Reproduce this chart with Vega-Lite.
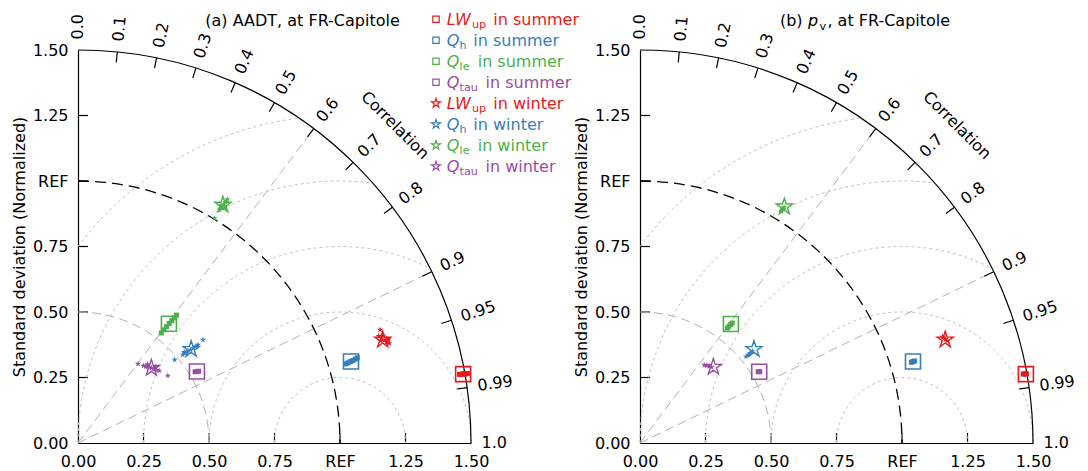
{
"$schema":"https://vega.github.io/schema/vega-lite/v6.json",
"padding":{"left":11,"top":11,"right":5,"bottom":0},
"bounds":"flush",
"spacing":169,
"config":{"view":{"stroke":null},"font":"DejaVu Sans"},
"datasets":{
"corr":[{"x":0,"y":0,"x2":0.9,"y2":1.2},{"x":0,"y":0,"x2":1.35,"y2":0.6538}],
"xt":[{"x":0.25,"y":0,"y2":0.0382},{"x":0.5,"y":0,"y2":0.0382},{"x":0.75,"y":0,"y2":0.0382},{"x":1,"y":0,"y2":0.0382},{"x":1.25,"y":0,"y2":0.0382}],
"yt":[{"y":0.25,"x":0,"x2":0.0382},{"y":0.5,"x":0,"x2":0.0382},{"y":0.75,"x":0,"x2":0.0382},{"y":1,"x":0,"x2":0.0382},{"y":1.25,"x":0,"x2":0.0382}],
"rms":[{"arc":"semi","r":0.25},{"arc":"semi","r":0.5},{"arc":"r075","r":0.75},{"arc":"r100","r":1.0},{"arc":"r125","r":1.25}],
"ctick":[{"x":0.15,"y":1.4925,"x2":0.146,"y2":1.4527},{"x":0.3,"y":1.4697,"x2":0.292,"y2":1.4305},{"x":0.45,"y":1.4309,"x2":0.438,"y2":1.3928},{"x":0.6,"y":1.3748,"x2":0.584,"y2":1.3381},{"x":0.75,"y":1.299,"x2":0.73,"y2":1.2644},{"x":0.9,"y":1.2,"x2":0.876,"y2":1.168},{"x":1.05,"y":1.0712,"x2":1.022,"y2":1.0426},{"x":1.2,"y":0.9,"x2":1.168,"y2":0.876},{"x":1.35,"y":0.6538,"x2":1.314,"y2":0.6364},{"x":1.425,"y":0.4684,"x2":1.387,"y2":0.4559},{"x":1.485,"y":0.2116,"x2":1.4454,"y2":0.206}],
"clab":[{"lab":"0.0","x":0,"y":1.54,"ang":-90},{"lab":"0.1","x":0.154,"y":1.5323,"ang":-84.26},{"lab":"0.2","x":0.308,"y":1.5089,"ang":-78.46},{"lab":"0.3","x":0.462,"y":1.4691,"ang":-72.54},{"lab":"0.4","x":0.616,"y":1.4114,"ang":-66.42},{"lab":"0.5","x":0.77,"y":1.3337,"ang":-60},{"lab":"0.6","x":0.924,"y":1.232,"ang":-53.13},{"lab":"0.7","x":1.078,"y":1.0998,"ang":-45.57},{"lab":"0.8","x":1.232,"y":0.924,"ang":-36.87},{"lab":"0.9","x":1.386,"y":0.6713,"ang":-25.84},{"lab":"0.95","x":1.463,"y":0.4809,"ang":-18.19},{"lab":"0.99","x":1.5246,"y":0.2173,"ang":-8.11},{"lab":"1.0","x":1.54,"y":0,"ang":0}],
"leg":[{"var":"LWup","season":"summer","main":"LW","sub":"up","rest":"in summer","order":0},{"var":"Qh","season":"summer","main":"Q","sub":"h","rest":"in summer","order":1},{"var":"Qle","season":"summer","main":"Q","sub":"le","rest":"in summer","order":2},{"var":"Qtau","season":"summer","main":"Q","sub":"tau","rest":"in summer","order":3},{"var":"LWup","season":"winter","main":"LW","sub":"up","rest":"in winter","order":4},{"var":"Qh","season":"winter","main":"Q","sub":"h","rest":"in winter","order":5},{"var":"Qle","season":"winter","main":"Q","sub":"le","rest":"in winter","order":6},{"var":"Qtau","season":"winter","main":"Q","sub":"tau","rest":"in winter","order":7}],
"pa":[
{"var":"LWup","season":"summer","kind":"big","x":1.47,"y":0.263},{"var":"Qh","season":"summer","kind":"big","x":1.042,"y":0.311},{"var":"Qle","season":"summer","kind":"big","x":0.347,"y":0.455},{"var":"Qtau","season":"summer","kind":"big","x":0.454,"y":0.273},
{"var":"LWup","season":"summer","kind":"small","x":1.456,"y":0.262},{"var":"LWup","season":"summer","kind":"small","x":1.462,"y":0.262},{"var":"LWup","season":"summer","kind":"small","x":1.468,"y":0.263},{"var":"LWup","season":"summer","kind":"small","x":1.474,"y":0.264},{"var":"LWup","season":"summer","kind":"small","x":1.48,"y":0.264},{"var":"LWup","season":"summer","kind":"small","x":1.486,"y":0.265},
{"var":"Qh","season":"summer","kind":"small","x":1.022,"y":0.302},{"var":"Qh","season":"summer","kind":"small","x":1.031,"y":0.306},{"var":"Qh","season":"summer","kind":"small","x":1.04,"y":0.311},{"var":"Qh","season":"summer","kind":"small","x":1.049,"y":0.315},{"var":"Qh","season":"summer","kind":"small","x":1.058,"y":0.32},{"var":"Qh","season":"summer","kind":"small","x":1.066,"y":0.325},
{"var":"Qle","season":"summer","kind":"small","x":0.318,"y":0.42},{"var":"Qle","season":"summer","kind":"small","x":0.328,"y":0.432},{"var":"Qle","season":"summer","kind":"small","x":0.338,"y":0.444},{"var":"Qle","season":"summer","kind":"small","x":0.348,"y":0.456},{"var":"Qle","season":"summer","kind":"small","x":0.358,"y":0.467},{"var":"Qle","season":"summer","kind":"small","x":0.368,"y":0.478},{"var":"Qle","season":"summer","kind":"small","x":0.376,"y":0.488},
{"var":"Qtau","season":"summer","kind":"small","x":0.447,"y":0.272},{"var":"Qtau","season":"summer","kind":"small","x":0.454,"y":0.273},{"var":"Qtau","season":"summer","kind":"small","x":0.46,"y":0.274},
{"var":"LWup","season":"winter","kind":"big","x":1.163,"y":0.394},{"var":"Qh","season":"winter","kind":"big","x":0.432,"y":0.358},{"var":"Qle","season":"winter","kind":"big","x":0.553,"y":0.909},{"var":"Qtau","season":"winter","kind":"big","x":0.28,"y":0.286},
{"var":"LWup","season":"winter","kind":"small","x":1.153,"y":0.432},{"var":"LWup","season":"winter","kind":"small","x":1.148,"y":0.408},{"var":"LWup","season":"winter","kind":"small","x":1.158,"y":0.4},{"var":"LWup","season":"winter","kind":"small","x":1.168,"y":0.392},{"var":"LWup","season":"winter","kind":"small","x":1.178,"y":0.386},{"var":"LWup","season":"winter","kind":"small","x":1.188,"y":0.381},{"var":"LWup","season":"winter","kind":"small","x":1.165,"y":0.41},{"var":"LWup","season":"winter","kind":"small","x":1.178,"y":0.4},{"var":"LWup","season":"winter","kind":"small","x":1.155,"y":0.39},{"var":"LWup","season":"winter","kind":"small","x":1.185,"y":0.395},
{"var":"Qh","season":"winter","kind":"small","x":0.477,"y":0.394},{"var":"Qh","season":"winter","kind":"small","x":0.369,"y":0.318},{"var":"Qh","season":"winter","kind":"small","x":0.4,"y":0.337},{"var":"Qh","season":"winter","kind":"small","x":0.41,"y":0.343},{"var":"Qh","season":"winter","kind":"small","x":0.42,"y":0.35},{"var":"Qh","season":"winter","kind":"small","x":0.43,"y":0.356},{"var":"Qh","season":"winter","kind":"small","x":0.44,"y":0.362},{"var":"Qh","season":"winter","kind":"small","x":0.45,"y":0.369},{"var":"Qh","season":"winter","kind":"small","x":0.458,"y":0.375},{"var":"Qh","season":"winter","kind":"small","x":0.405,"y":0.347},
{"var":"Qle","season":"winter","kind":"small","x":0.521,"y":0.858},{"var":"Qle","season":"winter","kind":"small","x":0.541,"y":0.89},{"var":"Qle","season":"winter","kind":"small","x":0.548,"y":0.9},{"var":"Qle","season":"winter","kind":"small","x":0.556,"y":0.91},{"var":"Qle","season":"winter","kind":"small","x":0.563,"y":0.92},{"var":"Qle","season":"winter","kind":"small","x":0.57,"y":0.93},{"var":"Qle","season":"winter","kind":"small","x":0.545,"y":0.906},{"var":"Qle","season":"winter","kind":"small","x":0.56,"y":0.899},
{"var":"Qtau","season":"winter","kind":"small","x":0.229,"y":0.302},{"var":"Qtau","season":"winter","kind":"small","x":0.343,"y":0.257},{"var":"Qtau","season":"winter","kind":"small","x":0.25,"y":0.295},{"var":"Qtau","season":"winter","kind":"small","x":0.26,"y":0.292},{"var":"Qtau","season":"winter","kind":"small","x":0.27,"y":0.29},{"var":"Qtau","season":"winter","kind":"small","x":0.28,"y":0.286},{"var":"Qtau","season":"winter","kind":"small","x":0.29,"y":0.282},{"var":"Qtau","season":"winter","kind":"small","x":0.3,"y":0.279},{"var":"Qtau","season":"winter","kind":"small","x":0.31,"y":0.276},{"var":"Qtau","season":"winter","kind":"small","x":0.265,"y":0.3},{"var":"Qtau","season":"winter","kind":"small","x":0.295,"y":0.29}
],
"pb":[
{"var":"LWup","season":"summer","kind":"big","x":1.473,"y":0.263},{"var":"Qh","season":"summer","kind":"big","x":1.042,"y":0.311},{"var":"Qle","season":"summer","kind":"big","x":0.347,"y":0.454},{"var":"Qtau","season":"summer","kind":"big","x":0.455,"y":0.272},
{"var":"LWup","season":"summer","kind":"small","x":1.463,"y":0.263},{"var":"LWup","season":"summer","kind":"small","x":1.469,"y":0.264},{"var":"LWup","season":"summer","kind":"small","x":1.475,"y":0.264},
{"var":"Qh","season":"summer","kind":"small","x":1.036,"y":0.308},{"var":"Qh","season":"summer","kind":"small","x":1.042,"y":0.311},{"var":"Qh","season":"summer","kind":"small","x":1.048,"y":0.313},
{"var":"Qle","season":"summer","kind":"small","x":0.334,"y":0.439},{"var":"Qle","season":"summer","kind":"small","x":0.34,"y":0.446},{"var":"Qle","season":"summer","kind":"small","x":0.346,"y":0.452},{"var":"Qle","season":"summer","kind":"small","x":0.352,"y":0.458},
{"var":"Qtau","season":"summer","kind":"small","x":0.451,"y":0.272},{"var":"Qtau","season":"summer","kind":"small","x":0.457,"y":0.272},
{"var":"LWup","season":"winter","kind":"big","x":1.165,"y":0.394},{"var":"Qh","season":"winter","kind":"big","x":0.435,"y":0.358},{"var":"Qle","season":"winter","kind":"big","x":0.551,"y":0.902},{"var":"Qtau","season":"winter","kind":"big","x":0.28,"y":0.29},
{"var":"LWup","season":"winter","kind":"small","x":1.155,"y":0.405},{"var":"LWup","season":"winter","kind":"small","x":1.16,"y":0.4},{"var":"LWup","season":"winter","kind":"small","x":1.166,"y":0.396},{"var":"LWup","season":"winter","kind":"small","x":1.172,"y":0.39},
{"var":"Qh","season":"winter","kind":"small","x":0.405,"y":0.33},{"var":"Qh","season":"winter","kind":"small","x":0.413,"y":0.337},{"var":"Qh","season":"winter","kind":"small","x":0.421,"y":0.343},{"var":"Qh","season":"winter","kind":"small","x":0.429,"y":0.35},
{"var":"Qle","season":"winter","kind":"small","x":0.54,"y":0.885},{"var":"Qle","season":"winter","kind":"small","x":0.545,"y":0.893},{"var":"Qle","season":"winter","kind":"small","x":0.55,"y":0.9},
{"var":"Qtau","season":"winter","kind":"small","x":0.245,"y":0.297},{"var":"Qtau","season":"winter","kind":"small","x":0.255,"y":0.295},{"var":"Qtau","season":"winter","kind":"small","x":0.265,"y":0.293},{"var":"Qtau","season":"winter","kind":"small","x":0.273,"y":0.29}
]
},
"hconcat":[
{
"width":393,"height":393,
"resolve":{"scale":{"y":"independent"}},
"layer":[
{"layer":[
{"data":{"name":"corr"},"mark":{"type":"rule","stroke":"#b3b3b3","strokeWidth":1,"strokeDash":[9,5]},
 "encoding":{
  "x":{"field":"x","type":"quantitative","scale":{"domain":[0,1.5],"nice":false},"axis":{"values":[0,0.25,0.5,0.75,1,1.25,1.5],"labelExpr":"datum.value == 1 ? 'REF' : format(datum.value, '.2f')","title":null,"ticks":false,"labelPadding":10,"labelFlush":false,"labelFontSize":16,"labelFont":"DejaVu Sans","labelColor":"#000","domainColor":"#000","domainWidth":1.2,"grid":false}},
  "y":{"field":"y","type":"quantitative","scale":{"domain":[0,1.5],"nice":false},"axis":{"values":[0,0.25,0.5,0.75,1,1.25,1.5],"labelExpr":"datum.value == 1 ? 'REF' : format(datum.value, '.2f')","title":"Standard deviation (Normalized)","titleFontSize":16,"titleFont":"DejaVu Sans","titleFontWeight":"normal","titleColor":"#000","titlePadding":5,"ticks":false,"labelPadding":10,"labelFlush":false,"labelFontSize":16,"labelFont":"DejaVu Sans","labelColor":"#000","domainColor":"#000","domainWidth":1.2,"grid":false}},
  "x2":{"field":"x2"},"y2":{"field":"y2"}}},
{"data":{"name":"xt"},"mark":{"type":"rule","stroke":"#000","strokeWidth":1.2},"encoding":{"x":{"field":"x","type":"quantitative"},"y":{"field":"y","type":"quantitative"},"y2":{"field":"y2"}}},
{"data":{"name":"yt"},"mark":{"type":"rule","stroke":"#000","strokeWidth":1.2},"encoding":{"x":{"field":"x","type":"quantitative"},"x2":{"field":"x2"},"y":{"field":"y","type":"quantitative"}}},
{"data":{"name":"rms"},"mark":{"type":"point","filled":false,"stroke":"#c4c4c4","strokeWidth":1,"strokeDash":[3,3],"opacity":1},
 "encoding":{"x":{"datum":1,"type":"quantitative"},"y":{"datum":0,"type":"quantitative"},
  "shape":{"field":"arc","type":"nominal","scale":{"domain":["semi","r075","r100","r125"],"range":["M-1,0A1,1,0,0,1,1,0","M-1,0A1,1,0,0,1,0.45833,-0.88879","M-1,0A1,1,0,0,1,0.125,-0.99216","M-0.8,-0.6A1,1,0,0,1,-0.125,-0.99216"]},"legend":null},
  "size":{"field":"r","type":"quantitative","scale":{"type":"pow","exponent":2,"domain":[0,1.5],"range":[0,617796]},"legend":null}}},
{"data":{"values":[{"r":0.5}]},"mark":{"type":"point","filled":false,"shape":"M0,-1A1,1,0,0,1,1,0","stroke":"#b3b3b3","strokeWidth":1,"strokeDash":[9,5],"opacity":1},
 "encoding":{"x":{"datum":0,"type":"quantitative"},"y":{"datum":0,"type":"quantitative"},"size":{"field":"r","type":"quantitative","legend":null}}},
{"data":{"values":[{"r":1}]},"mark":{"type":"point","filled":false,"shape":"M0,-1A1,1,0,0,1,1,0","stroke":"#000","strokeWidth":1.3,"strokeDash":[11,6],"opacity":1},
 "encoding":{"x":{"datum":0,"type":"quantitative"},"y":{"datum":0,"type":"quantitative"},"size":{"field":"r","type":"quantitative","legend":null}}},
{"data":{"values":[{"r":1.5}]},"mark":{"type":"point","filled":false,"shape":"M0,-1A1,1,0,0,1,1,0","stroke":"#000","strokeWidth":1.2,"opacity":1},
 "encoding":{"x":{"datum":0,"type":"quantitative"},"y":{"datum":0,"type":"quantitative"},"size":{"field":"r","type":"quantitative","legend":null}}},
{"data":{"name":"ctick"},"mark":{"type":"rule","stroke":"#000","strokeWidth":1.2},
 "encoding":{"x":{"field":"x","type":"quantitative"},"y":{"field":"y","type":"quantitative"},"x2":{"field":"x2"},"y2":{"field":"y2"}}},
{"data":{"name":"clab"},"mark":{"type":"text","align":"left","baseline":"middle","fontSize":16,"font":"DejaVu Sans","color":"#000"},
 "encoding":{"x":{"field":"x","type":"quantitative"},"y":{"field":"y","type":"quantitative"},"text":{"field":"lab"},"angle":{"field":"ang","type":"quantitative","scale":null}}},
{"data":{"values":[{"t":"Correlation"}]},"mark":{"type":"text","align":"center","baseline":"middle","fontSize":16,"font":"DejaVu Sans","angle":45,"color":"#000"},
 "encoding":{"x":{"datum":1.21,"type":"quantitative"},"y":{"datum":1.212,"type":"quantitative"},"text":{"field":"t"}}},
{"data":{"values":[{"t":"(a) AADT, at FR-Capitole"}]},"mark":{"type":"text","align":"center","baseline":"alphabetic","fontSize":16,"font":"DejaVu Sans","color":"#000"},
 "encoding":{"x":{"datum":0.857,"type":"quantitative"},"y":{"datum":1.5916,"type":"quantitative"},"text":{"field":"t"}}},
{"data":{"name":"pa"},"transform":[{"filter":"datum.season == 'summer' && datum.kind == 'small'"}],"mark":{"type":"point","shape":"square","filled":true,"size":25,"opacity":1},
 "encoding":{"x":{"field":"x","type":"quantitative"},"y":{"field":"y","type":"quantitative"},"color":{"field":"var","type":"nominal","scale":{"domain":["LWup","Qh","Qle","Qtau"],"range":["#e41a1c","#377eb8","#4daf4a","#984ea3"]},"legend":null}}},
{"data":{"name":"pa"},"transform":[{"filter":"datum.season == 'winter' && datum.kind == 'small'"}],"mark":{"type":"point","shape":"M0,-1L0.2245,-0.309L0.9511,-0.309L0.3633,0.118L0.5878,0.809L0,0.382L-0.5878,0.809L-0.3633,0.118L-0.9511,-0.309L-0.2245,-0.309Z","filled":true,"size":44,"opacity":1},
 "encoding":{"x":{"field":"x","type":"quantitative"},"y":{"field":"y","type":"quantitative"},"color":{"field":"var","type":"nominal","legend":null}}},
{"data":{"name":"pa"},"transform":[{"filter":"datum.season == 'summer' && datum.kind == 'big'"}],"mark":{"type":"point","shape":"square","filled":false,"size":225,"strokeWidth":1.6,"opacity":1},
 "encoding":{"x":{"field":"x","type":"quantitative"},"y":{"field":"y","type":"quantitative"},"color":{"field":"var","type":"nominal","legend":null}}},
{"data":{"name":"pa"},"transform":[{"filter":"datum.season == 'winter' && datum.kind == 'big'"}],"mark":{"type":"point","shape":"M0,-1L0.2245,-0.309L0.9511,-0.309L0.3633,0.118L0.5878,0.809L0,0.382L-0.5878,0.809L-0.3633,0.118L-0.9511,-0.309L-0.2245,-0.309Z","filled":false,"size":289,"strokeWidth":1.4,"opacity":1},
 "encoding":{"x":{"field":"x","type":"quantitative"},"y":{"field":"y","type":"quantitative"},"color":{"field":"var","type":"nominal","legend":null}}}
]},
{"data":{"name":"leg"},"layer":[
{"transform":[{"filter":"datum.season == 'summer'"}],"mark":{"type":"point","shape":"square","filled":false,"size":40,"strokeWidth":1.2,"opacity":1},
 "encoding":{"x":{"datum":1.3664,"type":"quantitative"},"y":{"field":"order","type":"quantitative","scale":{"domain":[0,7],"range":[-30.7,116.3],"nice":false},"axis":null},"color":{"field":"var","type":"nominal","legend":null}}},
{"transform":[{"filter":"datum.season == 'winter'"}],"mark":{"type":"point","shape":"M0,-1L0.2245,-0.309L0.9511,-0.309L0.3633,0.118L0.5878,0.809L0,0.382L-0.5878,0.809L-0.3633,0.118L-0.9511,-0.309L-0.2245,-0.309Z","filled":false,"size":90,"strokeWidth":1.2,"opacity":1},
 "encoding":{"x":{"datum":1.3664,"type":"quantitative"},"y":{"field":"order","type":"quantitative","axis":null},"color":{"field":"var","type":"nominal","legend":null}}},
{"mark":{"type":"text","align":"left","baseline":"alphabetic","fontSize":16,"font":"DejaVu Sans","fontStyle":"italic","dx":10.7,"dy":5.2},
 "encoding":{"x":{"datum":1.3664,"type":"quantitative"},"y":{"field":"order","type":"quantitative","axis":null},"text":{"field":"main"},"color":{"field":"var","type":"nominal","legend":null}}},
{"transform":[{"filter":"datum.main == 'LW'"}],"mark":{"type":"text","align":"left","baseline":"alphabetic","fontSize":11.2,"font":"DejaVu Sans","dx":36,"dy":8.7},
 "encoding":{"x":{"datum":1.3664,"type":"quantitative"},"y":{"field":"order","type":"quantitative","axis":null},"text":{"field":"sub"},"color":{"field":"var","type":"nominal","legend":null}}},
{"transform":[{"filter":"datum.main == 'Q'"}],"mark":{"type":"text","align":"left","baseline":"alphabetic","fontSize":11.2,"font":"DejaVu Sans","dx":23.6,"dy":8.7},
 "encoding":{"x":{"datum":1.3664,"type":"quantitative"},"y":{"field":"order","type":"quantitative","axis":null},"text":{"field":"sub"},"color":{"field":"var","type":"nominal","legend":null}}},
{"transform":[{"filter":"datum.sub == 'up'"}],"mark":{"type":"text","align":"left","baseline":"alphabetic","fontSize":16,"font":"DejaVu Sans","dx":57.3,"dy":5.2},
 "encoding":{"x":{"datum":1.3664,"type":"quantitative"},"y":{"field":"order","type":"quantitative","axis":null},"text":{"field":"rest"},"color":{"field":"var","type":"nominal","legend":null}}},
{"transform":[{"filter":"datum.sub == 'h'"}],"mark":{"type":"text","align":"left","baseline":"alphabetic","fontSize":16,"font":"DejaVu Sans","dx":37.3,"dy":5.2},
 "encoding":{"x":{"datum":1.3664,"type":"quantitative"},"y":{"field":"order","type":"quantitative","axis":null},"text":{"field":"rest"},"color":{"field":"var","type":"nominal","legend":null}}},
{"transform":[{"filter":"datum.sub == 'le'"}],"mark":{"type":"text","align":"left","baseline":"alphabetic","fontSize":16,"font":"DejaVu Sans","dx":41.7,"dy":5.2},
 "encoding":{"x":{"datum":1.3664,"type":"quantitative"},"y":{"field":"order","type":"quantitative","axis":null},"text":{"field":"rest"},"color":{"field":"var","type":"nominal","legend":null}}},
{"transform":[{"filter":"datum.sub == 'tau'"}],"mark":{"type":"text","align":"left","baseline":"alphabetic","fontSize":16,"font":"DejaVu Sans","dx":49.5,"dy":5.2},
 "encoding":{"x":{"datum":1.3664,"type":"quantitative"},"y":{"field":"order","type":"quantitative","axis":null},"text":{"field":"rest"},"color":{"field":"var","type":"nominal","legend":null}}}
]}
]
},
{
"width":393,"height":393,
"layer":[
{"data":{"name":"corr"},"mark":{"type":"rule","stroke":"#b3b3b3","strokeWidth":1,"strokeDash":[9,5]},
 "encoding":{
  "x":{"field":"x","type":"quantitative","scale":{"domain":[0,1.5],"nice":false},"axis":{"values":[0,0.25,0.5,0.75,1,1.25,1.5],"labelExpr":"datum.value == 1 ? 'REF' : format(datum.value, '.2f')","title":null,"ticks":false,"labelPadding":10,"labelFlush":false,"labelFontSize":16,"labelFont":"DejaVu Sans","labelColor":"#000","domainColor":"#000","domainWidth":1.2,"grid":false}},
  "y":{"field":"y","type":"quantitative","scale":{"domain":[0,1.5],"nice":false},"axis":{"values":[0,0.25,0.5,0.75,1,1.25,1.5],"labelExpr":"datum.value == 1 ? 'REF' : format(datum.value, '.2f')","title":"Standard deviation (Normalized)","titleFontSize":16,"titleFont":"DejaVu Sans","titleFontWeight":"normal","titleColor":"#000","titlePadding":5,"ticks":false,"labelPadding":10,"labelFlush":false,"labelFontSize":16,"labelFont":"DejaVu Sans","labelColor":"#000","domainColor":"#000","domainWidth":1.2,"grid":false}},
  "x2":{"field":"x2"},"y2":{"field":"y2"}}},
{"data":{"name":"xt"},"mark":{"type":"rule","stroke":"#000","strokeWidth":1.2},"encoding":{"x":{"field":"x","type":"quantitative"},"y":{"field":"y","type":"quantitative"},"y2":{"field":"y2"}}},
{"data":{"name":"yt"},"mark":{"type":"rule","stroke":"#000","strokeWidth":1.2},"encoding":{"x":{"field":"x","type":"quantitative"},"x2":{"field":"x2"},"y":{"field":"y","type":"quantitative"}}},
{"data":{"name":"rms"},"mark":{"type":"point","filled":false,"stroke":"#c4c4c4","strokeWidth":1,"strokeDash":[3,3],"opacity":1},
 "encoding":{"x":{"datum":1,"type":"quantitative"},"y":{"datum":0,"type":"quantitative"},
  "shape":{"field":"arc","type":"nominal","legend":null},
  "size":{"field":"r","type":"quantitative","legend":null}}},
{"data":{"values":[{"r":0.5}]},"mark":{"type":"point","filled":false,"shape":"M0,-1A1,1,0,0,1,1,0","stroke":"#b3b3b3","strokeWidth":1,"strokeDash":[9,5],"opacity":1},
 "encoding":{"x":{"datum":0,"type":"quantitative"},"y":{"datum":0,"type":"quantitative"},"size":{"field":"r","type":"quantitative","legend":null}}},
{"data":{"values":[{"r":1}]},"mark":{"type":"point","filled":false,"shape":"M0,-1A1,1,0,0,1,1,0","stroke":"#000","strokeWidth":1.3,"strokeDash":[11,6],"opacity":1},
 "encoding":{"x":{"datum":0,"type":"quantitative"},"y":{"datum":0,"type":"quantitative"},"size":{"field":"r","type":"quantitative","legend":null}}},
{"data":{"values":[{"r":1.5}]},"mark":{"type":"point","filled":false,"shape":"M0,-1A1,1,0,0,1,1,0","stroke":"#000","strokeWidth":1.2,"opacity":1},
 "encoding":{"x":{"datum":0,"type":"quantitative"},"y":{"datum":0,"type":"quantitative"},"size":{"field":"r","type":"quantitative","legend":null}}},
{"data":{"name":"ctick"},"mark":{"type":"rule","stroke":"#000","strokeWidth":1.2},
 "encoding":{"x":{"field":"x","type":"quantitative"},"y":{"field":"y","type":"quantitative"},"x2":{"field":"x2"},"y2":{"field":"y2"}}},
{"data":{"name":"clab"},"mark":{"type":"text","align":"left","baseline":"middle","fontSize":16,"font":"DejaVu Sans","color":"#000"},
 "encoding":{"x":{"field":"x","type":"quantitative"},"y":{"field":"y","type":"quantitative"},"text":{"field":"lab"},"angle":{"field":"ang","type":"quantitative","scale":null}}},
{"data":{"values":[{"t":"Correlation"}]},"mark":{"type":"text","align":"center","baseline":"middle","fontSize":16,"font":"DejaVu Sans","angle":45,"color":"#000"},
 "encoding":{"x":{"datum":1.21,"type":"quantitative"},"y":{"datum":1.212,"type":"quantitative"},"text":{"field":"t"}}},
{"data":{"values":[{"t":"(b)"}]},"mark":{"type":"text","align":"left","baseline":"alphabetic","fontSize":16,"font":"DejaVu Sans","color":"#000"},
 "encoding":{"x":{"datum":0.534,"type":"quantitative"},"y":{"datum":1.5916,"type":"quantitative"},"text":{"field":"t"}}},
{"data":{"values":[{"t":"p"}]},"mark":{"type":"text","align":"left","baseline":"alphabetic","fontSize":16,"font":"DejaVu Sans","fontStyle":"italic","dx":28,"color":"#000"},
 "encoding":{"x":{"datum":0.534,"type":"quantitative"},"y":{"datum":1.5916,"type":"quantitative"},"text":{"field":"t"}}},
{"data":{"values":[{"t":"v"}]},"mark":{"type":"text","align":"left","baseline":"alphabetic","fontSize":11.2,"font":"DejaVu Sans","dx":39.5,"dy":3.5,"color":"#000"},
 "encoding":{"x":{"datum":0.534,"type":"quantitative"},"y":{"datum":1.5916,"type":"quantitative"},"text":{"field":"t"}}},
{"data":{"values":[{"t":", at FR-Capitole"}]},"mark":{"type":"text","align":"left","baseline":"alphabetic","fontSize":16,"font":"DejaVu Sans","dx":47.5,"color":"#000"},
 "encoding":{"x":{"datum":0.534,"type":"quantitative"},"y":{"datum":1.5916,"type":"quantitative"},"text":{"field":"t"}}},
{"data":{"name":"pb"},"transform":[{"filter":"datum.season == 'summer' && datum.kind == 'small'"}],"mark":{"type":"point","shape":"square","filled":true,"size":25,"opacity":1},
 "encoding":{"x":{"field":"x","type":"quantitative"},"y":{"field":"y","type":"quantitative"},"color":{"field":"var","type":"nominal","legend":null}}},
{"data":{"name":"pb"},"transform":[{"filter":"datum.season == 'winter' && datum.kind == 'small'"}],"mark":{"type":"point","shape":"M0,-1L0.2245,-0.309L0.9511,-0.309L0.3633,0.118L0.5878,0.809L0,0.382L-0.5878,0.809L-0.3633,0.118L-0.9511,-0.309L-0.2245,-0.309Z","filled":true,"size":44,"opacity":1},
 "encoding":{"x":{"field":"x","type":"quantitative"},"y":{"field":"y","type":"quantitative"},"color":{"field":"var","type":"nominal","legend":null}}},
{"data":{"name":"pb"},"transform":[{"filter":"datum.season == 'summer' && datum.kind == 'big'"}],"mark":{"type":"point","shape":"square","filled":false,"size":225,"strokeWidth":1.6,"opacity":1},
 "encoding":{"x":{"field":"x","type":"quantitative"},"y":{"field":"y","type":"quantitative"},"color":{"field":"var","type":"nominal","legend":null}}},
{"data":{"name":"pb"},"transform":[{"filter":"datum.season == 'winter' && datum.kind == 'big'"}],"mark":{"type":"point","shape":"M0,-1L0.2245,-0.309L0.9511,-0.309L0.3633,0.118L0.5878,0.809L0,0.382L-0.5878,0.809L-0.3633,0.118L-0.9511,-0.309L-0.2245,-0.309Z","filled":false,"size":289,"strokeWidth":1.4,"opacity":1},
 "encoding":{"x":{"field":"x","type":"quantitative"},"y":{"field":"y","type":"quantitative"},"color":{"field":"var","type":"nominal","legend":null}}}
]
}
]
}
